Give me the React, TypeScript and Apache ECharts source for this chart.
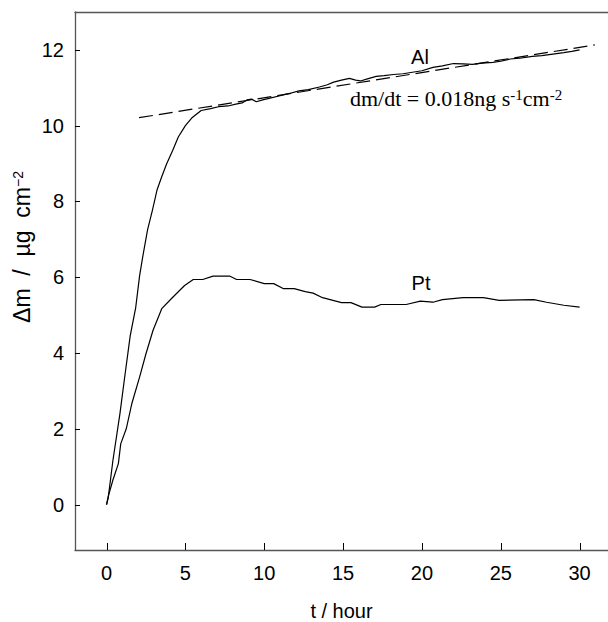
import React, { useEffect, useRef } from "react";
import * as echarts from "echarts";

// Al curve (t / hour, Δm / µg cm^-2)
const alT = [0, 0.1, 0.4, 0.85, 1.15, 1.5, 1.85, 2.1, 2.3, 2.6, 2.9, 3.2, 3.5, 3.8, 4.2, 4.55, 5.0, 5.4, 6.0, 6.6, 7.1, 7.7, 8.2, 8.6, 8.9, 9.2, 9.5, 9.9, 10.3, 11.0, 11.6, 12.2, 12.8, 13.5, 14.0, 14.4, 14.9, 15.4, 15.8, 16.1, 16.6, 17.1, 17.6, 18.2, 18.8, 19.4, 20.0, 20.7, 21.3, 22.0, 22.6, 23.2, 23.8, 24.5, 25.0, 25.6, 26.2, 27.0, 27.6, 28.3, 29.0, 29.5, 30.0];
const alM = [0, 0.16, 1.15, 2.4, 3.36, 4.45, 5.2, 6.05, 6.55, 7.25, 7.75, 8.3, 8.65, 8.98, 9.35, 9.7, 10.0, 10.2, 10.4, 10.45, 10.5, 10.52, 10.57, 10.6, 10.68, 10.7, 10.63, 10.68, 10.72, 10.79, 10.85, 10.92, 10.95, 11.02, 11.08, 11.15, 11.2, 11.25, 11.2, 11.18, 11.24, 11.3, 11.32, 11.35, 11.37, 11.41, 11.45, 11.54, 11.58, 11.64, 11.63, 11.62, 11.65, 11.67, 11.7, 11.76, 11.78, 11.83, 11.85, 11.89, 11.93, 11.96, 12.0];

// Pt curve
const ptT = [0, 0.1, 0.4, 0.75, 0.9, 1.25, 1.6, 2.1, 2.5, 2.95, 3.5, 4.2, 4.95, 5.5, 6.1, 6.75, 7.8, 8.25, 9.1, 10.0, 10.6, 11.2, 11.9, 12.6, 13.1, 13.7, 14.9, 15.5, 16.2, 17.0, 17.4, 19.0, 19.9, 20.7, 21.3, 22.6, 23.9, 24.9, 27.1, 27.9, 29.0, 30.0];
const ptM = [0, 0.2, 0.64, 1.08, 1.6, 2.0, 2.66, 3.37, 3.98, 4.6, 5.17, 5.47, 5.78, 5.94, 5.94, 6.03, 6.03, 5.94, 5.94, 5.83, 5.83, 5.7, 5.7, 5.62, 5.58, 5.46, 5.33, 5.33, 5.21, 5.21, 5.28, 5.28, 5.37, 5.34, 5.41, 5.46, 5.46, 5.39, 5.41, 5.34, 5.26, 5.21];

// Linear fit for Al (dashed)
const fitT = [2.06, 30.96];
const fitM = [10.21, 12.13];

// Tick values
const xTicks = [0, 5, 10, 15, 20, 25, 30];
const yTicks = [0, 2, 4, 6, 8, 10, 12];

const X_MIN = -2;
const X_MAX = 31.8;
const Y_MIN = -1.2;
const Y_MAX = 13;

const SANS = "'Liberation Sans', Arial, Helvetica, sans-serif";
const SERIF = "'Liberation Serif', 'Times New Roman', serif";

const zip = (a: number[], b: number[]) => a.map((v, i) => [v, b[i]]);

export default function App() {
  const ref = useRef<HTMLDivElement>(null);
  useEffect(() => {
    if (!ref.current) return;
    const chart = echarts.init(ref.current, null, { renderer: "svg" });
    const axisLine = { show: true, onZero: false, lineStyle: { color: "#555", width: 1.3 } };

    const tickSeries = (vals: number[], horizontal: boolean) => ({
      type: "custom",
      silent: true,
      clip: false,
      z: 5,
      data: vals.map((v) => (horizontal ? [v, Y_MIN] : [X_MIN, v])),
      renderItem: (params: any, api: any) => {
        const p = api.coord([api.value(0), api.value(1)]);
        const x = Math.round(p[0]) + 0.5;
        const y = Math.round(p[1]) + 0.5;
        return {
          type: "line",
          shape: horizontal ? { x1: x, y1: p[1], x2: x, y2: p[1] - 7 } : { x1: p[0], y1: y, x2: p[0] + 5, y2: y },
          style: { stroke: "#000", lineWidth: 1 },
        };
      },
    });

    chart.setOption({
      animation: false,
      backgroundColor: "#fff",
      grid: { left: 75, right: 0, top: 12, bottom: 72, containLabel: false, outerBoundsMode: "none" },
      xAxis: [
        {
          type: "value",
          min: X_MIN,
          max: X_MAX,
          position: "bottom",
          axisLine,
          axisTick: { show: false },
          axisLabel: { customValues: xTicks, fontFamily: SANS, fontSize: 20, color: "#000", margin: 13 },
          splitLine: { show: false },
          name: "t / hour",
          nameLocation: "middle",
          nameGap: 51,
          nameTextStyle: { fontFamily: SANS, fontSize: 20, color: "#000" },
        },
        {
          type: "value",
          min: X_MIN,
          max: X_MAX,
          position: "top",
          axisLine,
          axisTick: { show: false },
          axisLabel: { show: false },
          splitLine: { show: false },
        },
      ],
      yAxis: {
        type: "value",
        min: Y_MIN,
        max: Y_MAX,
        position: "left",
        axisLine,
        axisTick: { show: false },
        axisLabel: { customValues: yTicks, fontFamily: SANS, fontSize: 20, color: "#000", margin: 11 },
        splitLine: { show: false },
      },
      series: [
        {
          type: "line",
          name: "Al",
          data: zip(alT, alM),
          showSymbol: false,
          lineStyle: { color: "#000", width: 1.2 },
        },
        {
          type: "line",
          name: "Pt",
          data: zip(ptT, ptM),
          showSymbol: false,
          lineStyle: { color: "#000", width: 1.2 },
        },
        {
          type: "line",
          name: "fit",
          data: zip(fitT, fitM),
          showSymbol: false,
          lineStyle: { color: "#000", width: 1.2, type: [14, 6] },
        },
        tickSeries(xTicks, true),
        tickSeries(yTicks, false),
      ],
      graphic: [
        {
          type: "text",
          x: 22,
          y: 247,
          rotation: Math.PI / 2,
          style: {
            text: "{a|Δm  /  µg  cm}{s|−2}",
            align: "center",
            verticalAlign: "middle",
            rich: {
              a: { fontFamily: SANS, fontSize: 23, color: "#000" },
              s: { fontFamily: SANS, fontSize: 14, color: "#000", verticalAlign: "top" },
            },
          },
        },
        {
          type: "text",
          x: 420,
          y: 57,
          style: { text: "Al", font: `20px ${SANS}`, fill: "#000", align: "center", verticalAlign: "middle" },
        },
        {
          type: "text",
          x: 421,
          y: 283,
          style: { text: "Pt", font: `20px ${SANS}`, fill: "#000", align: "center", verticalAlign: "middle" },
        },
        {
          type: "text",
          x: 350,
          y: 98,
          style: {
            text: "{a|dm/dt = 0.018ng s}{s|-1}{a|cm}{s|-2}",
            align: "left",
            verticalAlign: "middle",
            rich: {
              a: { fontFamily: SERIF, fontSize: 22, color: "#000" },
              s: { fontFamily: SERIF, fontSize: 15, color: "#000", verticalAlign: "top" },
            },
          },
        },
      ],
    });

    return () => chart.dispose();
  }, []);
  return <div ref={ref} style={{ position: "absolute", left: 0, top: 0, width: 608, height: 622 }} />;
}
